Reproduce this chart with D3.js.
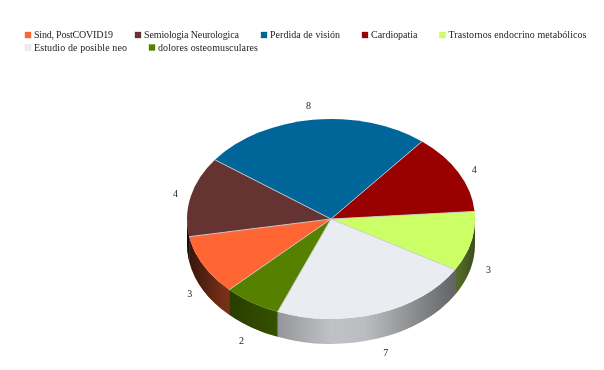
<!DOCTYPE html>
<html>
<head>
<meta charset="utf-8">
<script src="https://cdn.jsdelivr.net/npm/d3@7"></script>
<style>
  html, body { margin: 0; padding: 0; background: #fff; }
  svg { display: block; filter: blur(0.35px); }
  text { font-family: "Liberation Serif", serif; fill: #222; }
</style>
</head>
<body>
<svg width="604" height="370"></svg>
<script>
const categories = ["Sind, PostCOVID19", "Semiologia Neurologica", "Perdida de visión", "Cardiopatia", "Trastornos endocrino metabólicos", "Estudio de posible neo", "dolores osteomusculares"];
const values = [3, 4, 8, 4, 3, 7, 2];
const colors = ["#ff6633", "#663333", "#006699", "#990000", "#ccff66", "#e9ecf0", "#558000"];

const cx = 331, cy = 219, rx = 144, ry = 100, depth = 25;
const startDeg = 225;

// ancho de cada texto de la leyenda y ajuste fino de las etiquetas
const legendWidths = [79, 95, 70, 46.5, 138, 93, 100];
const labelNudge = [[3, -3], [3, 0], [-2, -1], [-1, 3], [-1, 0], [2, 2], [0, 2]];

const svg = d3.select("svg");
const defs = svg.append("defs");

const pie = d3.pie().value(d => d.value).sort(null)
  .startAngle(startDeg * Math.PI / 180)
  .endAngle((startDeg + 360) * Math.PI / 180);

const slices = pie(categories.map((name, i) => ({ name, value: values[i], color: colors[i] })));

// punto sobre la elipse para un angulo (0 = arriba, sentido horario)
const px = a => cx + rx * Math.sin(a);
const py = (a, dy = 0) => cy - ry * Math.cos(a) + dy;

// sombreado del lateral, de izquierda a derecha
const shadeStops = [
  [0, 0.8], [0.12, 0.55], [0.3, 0.38], [0.5, 0.18], [0.62, 0.2], [0.8, 0.42], [0.95, 0.6], [1, 0.7]
];
const shade = defs.append("linearGradient").attr("id", "wallShade")
  .attr("gradientUnits", "userSpaceOnUse")
  .attr("x1", cx - rx).attr("x2", cx + rx).attr("y1", 0).attr("y2", 0);
shade.selectAll("stop").data(shadeStops).join("stop")
  .attr("offset", d => d[0])
  .attr("stop-color", "#000")
  .attr("stop-opacity", d => d[1]);

// lateral: solo la parte de la elipse que mira hacia abajo
function wallPath(d) {
  const turn = 2 * Math.PI;
  const parts = [];
  [[Math.PI / 2, 3 * Math.PI / 2], [Math.PI / 2 + turn, 3 * Math.PI / 2 + turn]].forEach(([lo, hi]) => {
    const s = Math.max(d.startAngle, lo), e = Math.min(d.endAngle, hi);
    if (e > s) parts.push([s, e]);
  });
  return parts.map(([s, e]) =>
    `M${px(s)},${py(s)}A${rx},${ry} 0 0 1 ${px(e)},${py(e)}` +
    `L${px(e)},${py(e, depth)}A${rx},${ry} 0 0 0 ${px(s)},${py(s, depth)}Z`
  ).join("");
}

const walls = svg.append("g");
walls.selectAll("path.base").data(slices).join("path")
  .attr("class", "base")
  .attr("d", wallPath)
  .attr("fill", d => d.data.color);
walls.selectAll("path.shade").data(slices).join("path")
  .attr("class", "shade")
  .attr("d", wallPath)
  .attr("fill", "url(#wallShade)");

// cara superior: arcos circulares aplastados en y
const arc = d3.arc().innerRadius(0).outerRadius(rx);
svg.append("g")
  .attr("transform", `translate(${cx},${cy}) scale(1,${ry / rx})`)
  .selectAll("path").data(slices).join("path")
  .attr("d", arc)
  .attr("fill", d => d.data.color);

// radios claros entre porciones
svg.append("g").selectAll("line").data(slices).join("line")
  .attr("x1", cx).attr("y1", cy)
  .attr("x2", d => px(d.startAngle))
  .attr("y2", d => py(d.startAngle))
  .attr("stroke", "#c9c9c9")
  .attr("stroke-width", 0.9);

// etiquetas de valor
const labelR = rx * 1.13;
const labelArc = d3.arc().innerRadius(labelR).outerRadius(labelR);
svg.append("g").selectAll("text").data(slices).join("text")
  .attr("x", (d, i) => cx + labelArc.centroid(d)[0] + labelNudge[i][0])
  .attr("y", (d, i) => {
    const [, y] = labelArc.centroid(d);
    return cy + y * ry / rx + (y > 0 ? depth : 0) + 3.5 + labelNudge[i][1];
  })
  .attr("text-anchor", "middle")
  .attr("font-size", 10)
  .text(d => d.data.value);

// leyenda en dos filas
const legendLeft = 25, legendRight = 590, rowGap = 12.5, itemGap = 22;
const legend = svg.append("g");
let lx = legendLeft, ly = 35;
slices.forEach((d, i) => {
  const w = legendWidths[i] + 9;
  if (lx + w > legendRight) { lx = legendLeft; ly += rowGap; }
  const item = legend.append("g").attr("transform", `translate(${lx},${ly})`);
  item.append("rect")
    .attr("x", 0).attr("y", -3).attr("width", 6).attr("height", 6)
    .attr("fill", d.data.color)
    .attr("stroke", d3.color(d.data.color).darker(0.3))
    .attr("stroke-width", 0.3);
  item.append("text")
    .attr("x", 9).attr("y", 3.2)
    .attr("font-size", 10)
    .attr("textLength", legendWidths[i])
    .attr("lengthAdjust", "spacing")
    .text(d.data.name);
  lx += w + itemGap;
});
</script>
</body>
</html>
